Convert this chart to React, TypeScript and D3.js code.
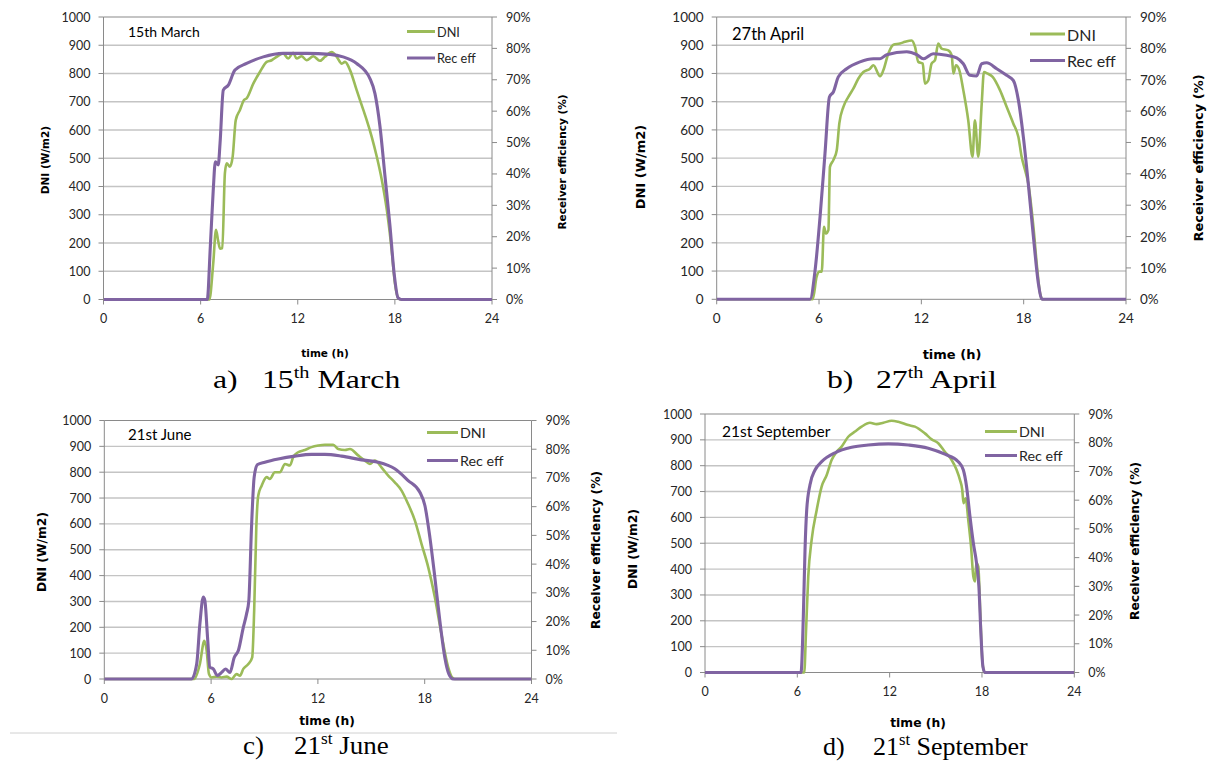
import React from "react";
import * as d3 from "d3";

// ---------- axis ticks & labels ----------
const HOUR_TICKS = [0, 6, 12, 18, 24];
const DNI_TICKS = [0, 100, 200, 300, 400, 500, 600, 700, 800, 900, 1000];
const EFF_TICKS = [0, 10, 20, 30, 40, 50, 60, 70, 80, 90];
const LEGEND_LABELS = ["DNI", "Rec eff"];
const X_TITLE = "time (h)";
const Y_LEFT_TITLE = "DNI (W/m2)";
const Y_RIGHT_TITLE = "Receiver efficiency (%)";

// ---------- series: [hour, value] ----------
const marchDni: [number, number][] = [
  [0, 0], [6.54, 0], [6.78, 129], [6.95, 247], [7.09, 205], [7.2, 180], [7.34, 182],
  [7.5, 447], [7.61, 482], [7.81, 470], [7.98, 506], [8.17, 635], [8.43, 671],
  [8.68, 706], [8.84, 712], [9.26, 765], [9.67, 806], [10.08, 841], [10.39, 847],
  [10.7, 859], [11.1, 871], [11.41, 853], [11.72, 873], [11.93, 853], [12.24, 861],
  [12.55, 847], [12.96, 861], [13.37, 845], [13.68, 859], [14.1, 876], [14.41, 859],
  [14.72, 835], [14.92, 841], [15.23, 812], [15.64, 741], [16.05, 671], [16.26, 635],
  [16.57, 576], [16.88, 506], [17.19, 424], [17.5, 318], [17.8, 176], [18.0, 59],
  [18.2, 6], [18.36, 0], [24, 0],
];
const marchEff: [number, number][] = [
  [0, 0], [6.41, 0], [6.6, 17], [6.78, 34.9], [6.91, 43.9], [7.09, 42.9], [7.2, 49.8],
  [7.4, 66.7], [7.71, 68.3], [8.12, 73.1], [8.84, 75.2], [9.87, 77.3], [11.1, 78.4],
  [12.55, 78.4], [14.0, 78.1], [14.8, 77.3], [15.64, 75.2], [16.46, 70.4],
  [16.77, 65.6], [17.08, 55.1], [17.39, 39.2], [17.7, 23.3], [17.95, 8.5],
  [18.2, 0.5], [18.4, 0], [24, 0],
];

const aprilDni: [number, number][] = [
  [0, 0], [5.63, 0], [5.86, 80], [6.02, 98], [6.16, 98], [6.29, 257], [6.41, 233],
  [6.55, 245], [6.64, 469], [6.84, 493], [7.04, 528], [7.19, 623], [7.43, 682],
  [7.72, 717], [8.01, 746], [8.31, 782], [8.6, 805], [8.99, 817], [9.19, 829],
  [9.58, 790], [9.77, 811], [10.06, 870], [10.36, 902], [10.75, 906], [11.04, 912],
  [11.43, 917], [11.63, 894], [11.82, 841], [12.08, 835], [12.21, 764], [12.41, 776],
  [12.6, 835], [12.8, 847], [12.99, 906], [13.19, 888], [13.58, 882], [13.78, 864],
  [13.88, 800], [14.03, 829], [14.23, 811], [14.46, 741], [14.75, 634], [15.0, 505],
  [15.14, 634], [15.34, 505], [15.54, 693], [15.67, 805], [15.87, 800], [16.18, 788],
  [16.61, 741], [17.0, 682], [17.39, 623], [17.69, 575], [17.88, 505], [18.08, 458],
  [18.27, 410], [18.57, 257], [18.8, 104], [18.96, 21], [19.11, 0], [24, 0],
];
const aprilEff: [number, number][] = [
  [0, 0], [5.47, 0], [5.77, 9.3], [6.06, 26.3], [6.35, 46.5], [6.61, 64.5],
  [6.84, 66.1], [7.13, 70.9], [7.62, 73.5], [8.4, 75.7], [9.19, 76.7], [9.58, 76.7],
  [9.97, 78.0], [11.14, 78.9], [11.73, 78.0], [12.12, 76.7], [12.7, 78.3],
  [13.49, 77.8], [14.07, 77.0], [14.46, 75.1], [14.85, 71.4], [15.24, 71.2],
  [15.54, 75.1], [15.83, 75.4], [16.42, 73.5], [17.0, 71.4], [17.39, 69.8],
  [17.69, 63.5], [17.98, 51.8], [18.27, 36.9], [18.57, 20.0], [18.86, 5.1],
  [19.05, 0.2], [19.15, 0], [24, 0],
];

const juneDni: [number, number][] = [
  [0, 0], [5.05, 0], [5.37, 58], [5.62, 148], [5.75, 110], [5.88, 19], [6.03, 6],
  [6.31, 9], [6.59, 6], [6.87, 9], [7.15, 0], [7.43, 19], [7.62, 13], [7.81, 39],
  [8.09, 58], [8.31, 84], [8.42, 265], [8.54, 587], [8.65, 710], [8.84, 748],
  [9.12, 781], [9.3, 774], [9.58, 800], [9.87, 800], [10.15, 832], [10.43, 826],
  [10.61, 858], [10.89, 877], [11.27, 886], [11.64, 897], [12.02, 903], [12.39, 906],
  [12.86, 906], [13.14, 890], [13.52, 886], [13.8, 890], [14.26, 865], [14.64, 845],
  [14.92, 832], [15.2, 845], [15.57, 819], [15.95, 787], [16.32, 761], [16.7, 729],
  [17.07, 677], [17.45, 613], [17.82, 523], [18.2, 432], [18.57, 316], [18.94, 174],
  [19.32, 45], [19.54, 6], [19.69, 0], [24, 0],
];
const juneEff: [number, number][] = [
  [0, 0], [4.9, 0], [5.19, 5.2], [5.37, 19.2], [5.56, 28.5], [5.65, 27.3],
  [5.8, 14.5], [5.93, 4.1], [6.12, 3.5], [6.36, 1.2], [6.59, 2.3], [6.81, 3.5],
  [7.06, 2.3], [7.3, 7.5], [7.53, 9.9], [7.81, 18.0], [7.99, 22.6], [8.12, 27.3],
  [8.27, 52.8], [8.42, 70.3], [8.61, 74.7], [9.02, 75.5], [9.77, 76.6], [10.71, 77.6],
  [11.64, 78.2], [12.39, 78.2], [13.33, 77.6], [14.45, 76.3], [15.39, 75.5],
  [16.32, 73.2], [17.07, 69.1], [17.73, 65.0], [18.01, 60.4], [18.29, 49.4],
  [18.57, 35.4], [18.85, 20.3], [19.13, 7.5], [19.36, 1.7], [19.6, 0], [24, 0],
];

const septDni: [number, number][] = [
  [0, 0], [6.45, 0], [6.56, 152], [6.71, 371], [6.93, 513], [7.26, 629], [7.58, 719],
  [7.91, 764], [8.23, 822], [8.56, 854], [8.88, 874], [9.31, 912], [9.75, 932],
  [10.18, 951], [10.72, 966], [11.15, 961], [11.59, 966], [12.13, 974], [12.56, 970],
  [13.21, 957], [13.64, 951], [14.29, 925], [14.73, 902], [15.16, 887], [15.59, 854],
  [16.03, 822], [16.35, 784], [16.57, 745], [16.72, 706], [16.8, 655], [16.94, 674],
  [17.11, 590], [17.29, 487], [17.44, 371], [17.55, 352], [17.63, 423], [17.76, 410],
  [17.89, 229], [18.02, 49], [18.15, 0], [24, 0],
];
const septEff: [number, number][] = [
  [0, 0], [6.24, 0], [6.39, 19.5], [6.5, 42.7], [6.61, 56.6], [6.82, 65.3],
  [7.15, 70.5], [7.58, 73.4], [8.45, 76.5], [9.53, 78.4], [10.61, 79.2], [11.91, 79.6],
  [13.21, 79.2], [14.51, 78.1], [15.59, 76.0], [16.46, 73.4], [16.79, 70.5],
  [17.0, 64.7], [17.22, 54.3], [17.44, 45.0], [17.65, 38.0], [17.8, 29.9],
  [17.93, 13.7], [18.06, 2.1], [18.19, 0], [24, 0],
];

// ---------- colours ----------
const DNI_COLOR = "#9BBB59";
const EFF_COLOR = "#8064A2";
const GRID_COLOR = "#C4C4C4";
const AXIS_COLOR = "#8A8A8A";
const TEXT_COLOR = "#262626";

type PanelCfg = {
  title: string;
  letter: string;
  capNum: string;
  capSup: string;
  capRest: string;
  dni: [number, number][];
  eff: [number, number][];
  x0: number; x1: number; yT: number; yB: number;
  tickFs: number; titleFs: number; legFs: number; axisFs: number;
  titleX: number; titleY: number;
  legX0: number; legX1: number; legY1: number; legY2: number;
  leftTitleX: number; leftTitleY: number;
  rightTitleX: number; rightTitleY: number;
  xTitleX: number; xTitleY: number;
  capX: number; capNumX: number; capY: number; capSx: number;
};

const PANELS: PanelCfg[] = [
  {
    title: "15th March", letter: "a)", capNum: "15", capSup: "th", capRest: " March",
    dni: marchDni, eff: marchEff,
    x0: 103.5, x1: 492, yT: 17, yB: 299.5,
    tickFs: 12.5, titleFs: 14, legFs: 12.7, axisFs: 10.5,
    titleX: 128, titleY: 31,
    legX0: 407, legX1: 435, legY1: 31.5, legY2: 58,
    leftTitleX: 45, leftTitleY: 160, rightTitleX: 562, rightTitleY: 162,
    xTitleX: 325, xTitleY: 353,
    capX: 213, capNumX: 262, capY: 388, capSx: 1.27,
  },
  {
    title: "27th April", letter: "b)", capNum: "27", capSup: "th", capRest: " April",
    dni: aprilDni, eff: aprilEff,
    x0: 716.7, x1: 1126, yT: 17, yB: 299.3,
    tickFs: 13.5, titleFs: 16.5, legFs: 16, axisFs: 13,
    titleX: 732, titleY: 34,
    legX0: 1030, legX1: 1065, legY1: 34, legY2: 60.5,
    leftTitleX: 640, leftTitleY: 167, rightTitleX: 1198, rightTitleY: 158,
    xTitleX: 952, xTitleY: 354,
    capX: 827, capNumX: 876, capY: 388, capSx: 1.27,
  },
  {
    title: "21st June", letter: "c)", capNum: "21", capSup: "st", capRest: " June",
    dni: juneDni, eff: juneEff,
    x0: 104.3, x1: 531.5, yT: 420.5, yB: 679,
    tickFs: 12.5, titleFs: 15, legFs: 14.3, axisFs: 12.3,
    titleX: 128, titleY: 434,
    legX0: 427, legX1: 458, legY1: 432.5, legY2: 460.5,
    leftTitleX: 42, leftTitleY: 552, rightTitleX: 596, rightTitleY: 550,
    xTitleX: 327, xTitleY: 721,
    capX: 243, capNumX: 294, capY: 754, capSx: 1.08,
  },
  {
    title: "21st September", letter: "d)", capNum: "21", capSup: "st", capRest: " September",
    dni: septDni, eff: septEff,
    x0: 705, x1: 1074.3, yT: 414, yB: 672.5,
    tickFs: 12.5, titleFs: 15.5, legFs: 14.3, axisFs: 12.3,
    titleX: 722, titleY: 431,
    legX0: 985, legX1: 1017, legY1: 431.5, legY2: 455.5,
    leftTitleX: 633, leftTitleY: 549, rightTitleX: 1135, rightTitleY: 541,
    xTitleX: 918, xTitleY: 723,
    capX: 823, capNumX: 873, capY: 755, capSx: 1.04,
  },
];

const SANS = "Lato, 'Open Sans', sans-serif";
const BOLD = "'DejaVu Sans', Verdana, sans-serif";
const SERIF = "'Liberation Serif', 'Times New Roman', serif";

function Panel({ p }: { p: PanelCfg }) {
  const x = d3.scaleLinear().domain([0, 24]).range([p.x0, p.x1]);
  const yL = d3.scaleLinear().domain([0, 1000]).range([p.yB, p.yT]);
  const yR = d3.scaleLinear().domain([0, 90]).range([p.yB, p.yT]);
  const lineL = d3
    .line<[number, number]>()
    .x((d) => x(d[0]))
    .y((d) => yL(d[1]))
    .curve(d3.curveMonotoneX);
  const lineR = d3
    .line<[number, number]>()
    .x((d) => x(d[0]))
    .y((d) => yR(d[1]))
    .curve(d3.curveMonotoneX);

  return (
    <g>
      {/* gridlines */}
      {DNI_TICKS.filter((t) => t > 0 && t < 1000).map((t) => (
        <line key={"g" + t} x1={p.x0} x2={p.x1} y1={yL(t)} y2={yL(t)} stroke={GRID_COLOR} strokeWidth={1.4} />
      ))}
      {/* top border */}
      <line x1={p.x0} x2={p.x1} y1={yL(1000)} y2={yL(1000)} stroke={AXIS_COLOR} strokeWidth={1.2} />
      {/* left axis */}
      <line x1={p.x0} x2={p.x0} y1={p.yT} y2={p.yB} stroke={AXIS_COLOR} strokeWidth={1} />
      {DNI_TICKS.map((t) => (
        <g key={"l" + t}>
          <line x1={p.x0 - 5} x2={p.x0} y1={yL(t)} y2={yL(t)} stroke={AXIS_COLOR} />
          <text x={p.x0 - 13} y={yL(t)} textAnchor="end" dominantBaseline="central" fontSize={p.tickFs} fontFamily={SANS} fill={TEXT_COLOR}>
            {t}
          </text>
        </g>
      ))}
      {/* right axis */}
      <line x1={p.x1} x2={p.x1} y1={p.yT} y2={p.yB} stroke={AXIS_COLOR} strokeWidth={1} />
      {EFF_TICKS.map((t) => (
        <g key={"r" + t}>
          <line x1={p.x1} x2={p.x1 + 5} y1={yR(t)} y2={yR(t)} stroke={AXIS_COLOR} />
          <text x={p.x1 + 14} y={yR(t)} textAnchor="start" dominantBaseline="central" fontSize={p.tickFs} fontFamily={SANS} fill={TEXT_COLOR}>
            {t + "%"}
          </text>
        </g>
      ))}
      {/* x axis */}
      <line x1={p.x0} x2={p.x1} y1={p.yB} y2={p.yB} stroke={AXIS_COLOR} strokeWidth={1} />
      {HOUR_TICKS.map((t) => (
        <g key={"x" + t}>
          <line x1={x(t)} x2={x(t)} y1={p.yB} y2={p.yB + 5} stroke={AXIS_COLOR} />
          <text x={x(t)} y={p.yB + 19} textAnchor="middle" dominantBaseline="central" fontSize={p.tickFs} fontFamily={SANS} fill={TEXT_COLOR}>
            {t}
          </text>
        </g>
      ))}
      {/* series */}
      <path d={lineL(p.dni) || ""} fill="none" stroke={DNI_COLOR} strokeWidth={2.6} strokeLinejoin="round" />
      <path d={lineR(p.eff) || ""} fill="none" stroke={EFF_COLOR} strokeWidth={3.1} strokeLinejoin="round" />
      {/* in-plot title */}
      <text x={p.titleX} y={p.titleY} dominantBaseline="central" fontSize={p.titleFs} fontFamily={SANS} fill="#000">
        {p.title}
      </text>
      {/* legend */}
      <line x1={p.legX0} x2={p.legX1} y1={p.legY1} y2={p.legY1} stroke={DNI_COLOR} strokeWidth={3} />
      <text x={p.legX1 + 2} y={p.legY1} dominantBaseline="central" fontSize={p.legFs} fontFamily={SANS} fill={TEXT_COLOR}>
        {LEGEND_LABELS[0]}
      </text>
      <line x1={p.legX0} x2={p.legX1} y1={p.legY2} y2={p.legY2} stroke={EFF_COLOR} strokeWidth={3} />
      <text x={p.legX1 + 2} y={p.legY2} dominantBaseline="central" fontSize={p.legFs} fontFamily={SANS} fill={TEXT_COLOR}>
        {LEGEND_LABELS[1]}
      </text>
      {/* axis titles */}
      <text transform={`translate(${p.leftTitleX},${p.leftTitleY}) rotate(-90)`} textAnchor="middle" dominantBaseline="central" fontSize={p.axisFs} fontWeight="bold" fontFamily={BOLD} fill="#000">
        {Y_LEFT_TITLE}
      </text>
      <text transform={`translate(${p.rightTitleX},${p.rightTitleY}) rotate(-90)`} textAnchor="middle" dominantBaseline="central" fontSize={p.axisFs} fontWeight="bold" fontFamily={BOLD} fill="#000">
        {Y_RIGHT_TITLE}
      </text>
      <text x={p.xTitleX} y={p.xTitleY} textAnchor="middle" dominantBaseline="central" fontSize={p.axisFs} fontWeight="bold" fontFamily={BOLD} fill="#000">
        {X_TITLE}
      </text>
      {/* caption */}
      <text transform={`translate(${p.capX},${p.capY}) scale(${p.capSx},1)`} fontSize={25} fontFamily={SERIF} fill="#000">
        {p.letter}
      </text>
      <text transform={`translate(${p.capNumX},${p.capY}) scale(${p.capSx},1)`} fontSize={25} fontFamily={SERIF} fill="#000">
        {p.capNum}
        <tspan fontSize={16} dy={-10}>{p.capSup}</tspan>
        <tspan dy={10}>{p.capRest}</tspan>
      </text>
    </g>
  );
}

export default function App() {
  return (
    <svg width={1212} height={762} style={{ position: "absolute", left: 0, top: 0, background: "#fff" }}>
      <rect x={0} y={0} width={1212} height={762} fill="#fff" />
      <line x1={10} x2={617} y1={733} y2={733} stroke="#D0D0D0" strokeWidth={1} />
      {PANELS.map((p) => (
        <Panel key={p.title} p={p} />
      ))}
    </svg>
  );
}
